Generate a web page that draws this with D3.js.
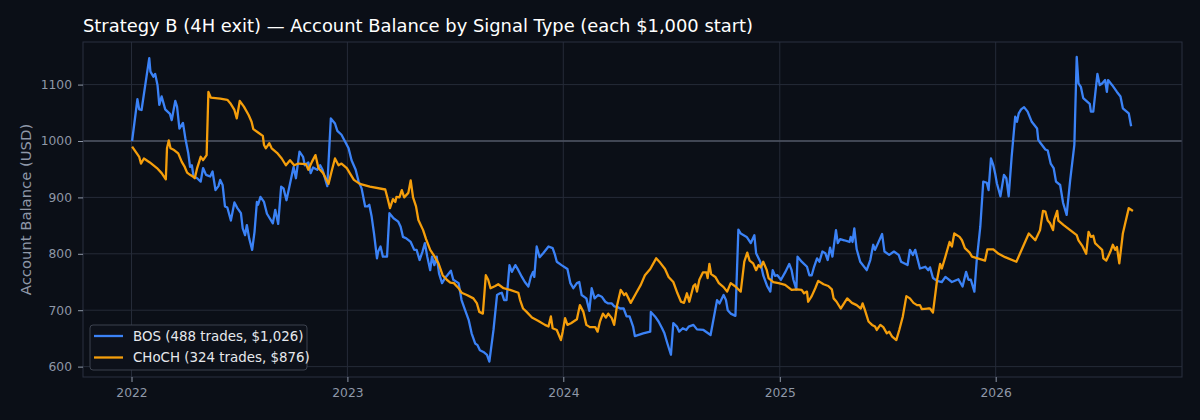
<!DOCTYPE html>
<html>
<head>
<meta charset="utf-8">
<title>Strategy B Account Balance</title>
<script src="https://cdn.jsdelivr.net/npm/d3@7"></script>
<style>
html, body {
    margin: 0;
    padding: 0;
    background: #0b0f17;
}
svg {
    display: block;
    font-family: "DejaVu Sans", sans-serif;
}
.grid line {
    stroke: #252b38;
    stroke-width: 1px;
}
.axis line, .axis path {
    stroke: #8f98a8;
}
.balance {
    fill: none;
    stroke-width: 2.3px;
    stroke-linejoin: round;
}
</style>
</head>
<body>
<div id="chart"></div>
<script>
// days since 2022-01-01 and balances
var bosDays = [1, 10, 13, 17, 30, 32, 37, 40, 44, 47, 51, 57, 65, 68, 74, 77, 81, 87, 91, 96,
    99, 102, 105, 111, 117, 121, 126, 133, 137, 142, 147, 150, 154, 158, 162, 168, 174, 179, 185, 188,
    192, 195, 199, 204, 208, 212, 214, 218, 224, 229, 239, 243, 248, 253, 257, 262, 274, 278, 284, 290,
    293, 299, 303, 307, 314, 319, 323, 331, 337, 344, 348, 355, 361, 367, 372, 379, 384, 389, 395, 399,
    402, 406, 410, 415, 417, 421, 425, 432, 436, 443, 451, 455, 459, 465, 472, 478, 482, 487, 492, 496,
    500, 505, 508, 512, 516, 520, 525, 530, 534, 540, 544, 553, 558, 564, 570, 575, 581, 585, 589, 595,
    601, 605, 612, 618, 623, 626, 630, 634, 639, 643, 649, 654, 660, 665, 671, 675, 679, 681, 685, 690,
    696, 705, 712, 716, 719, 727, 737, 742, 747, 753, 757, 761, 769, 774, 778, 783, 789, 795, 801, 806,
    812, 816, 821, 826, 832, 837, 842, 848, 851, 865, 877, 878, 885, 891, 897, 901, 906, 912, 916, 922,
    926, 932, 938, 942, 950, 956, 967, 979, 990, 994, 1001, 1005, 1008, 1013, 1021, 1026, 1030, 1040, 1047, 1053,
    1056, 1063, 1068, 1075, 1080, 1084, 1088, 1092, 1098, 1105, 1112, 1116, 1119, 1124, 1126, 1133, 1142, 1146, 1150, 1154,
    1159, 1163, 1168, 1173, 1177, 1181, 1185, 1191, 1194, 1198, 1205, 1214, 1216, 1219, 1222, 1226, 1232, 1243, 1249, 1254,
    1257, 1269, 1273, 1281, 1289, 1297, 1301, 1312, 1316, 1321, 1325, 1333, 1342, 1347, 1350, 1355, 1362, 1370, 1376, 1387,
    1398, 1405, 1411, 1415, 1419, 1425, 1429, 1435, 1440, 1446, 1449, 1453, 1457, 1460, 1463, 1469, 1475, 1479, 1483, 1488,
    1494, 1497, 1500, 1504, 1509, 1515, 1522, 1531, 1533, 1537, 1545, 1549, 1554, 1559, 1563, 1570, 1575, 1581, 1587, 1594,
    1598, 1601, 1605, 1609, 1620, 1622, 1626, 1633, 1637, 1641, 1646, 1649, 1651, 1658, 1666, 1672, 1676, 1686, 1690];
var bosBalance = [1000, 1074, 1056, 1055, 1147, 1123, 1114, 1119, 1099, 1064, 1079, 1056, 1048, 1037, 1071, 1061, 1022, 1032, 1005, 978,
    954, 957, 937, 934, 928, 952, 940, 937, 946, 913, 920, 931, 922, 884, 882, 859, 891, 881, 872, 845,
    833, 851, 827, 807, 839, 892, 887, 901, 892, 871, 854, 878, 853, 919, 916, 895, 954, 934, 981, 972,
    957, 962, 943, 953, 949, 957, 949, 920, 1040, 1031, 1018, 1011, 999, 987, 966, 949, 928, 916, 884, 884,
    887, 866, 836, 792, 804, 813, 795, 795, 872, 863, 857, 848, 830, 827, 821, 807, 807, 789, 804, 819,
    795, 771, 795, 780, 795, 765, 748, 757, 762, 770, 754, 748, 718, 700, 683, 659, 641, 638, 629, 626,
    621, 609, 665, 727, 730, 731, 718, 718, 780, 768, 780, 771, 759, 750, 742, 759, 768, 759, 813, 794,
    801, 813, 810, 798, 786, 780, 773, 748, 739, 748, 750, 727, 721, 699, 739, 721, 727, 724, 715, 712,
    712, 707, 706, 703, 703, 689, 689, 671, 654, 659, 662, 697, 689, 680, 668, 659, 641, 621, 677, 671,
    662, 668, 665, 671, 674, 666, 665, 656, 718, 712, 727, 718, 700, 694, 690, 843, 836, 830, 819, 833,
    801, 786, 762, 742, 733, 771, 761, 762, 754, 767, 782, 771, 754, 737, 795, 786, 777, 762, 762, 777,
    792, 786, 804, 801, 789, 811, 795, 842, 819, 826, 824, 821, 830, 821, 845, 808, 786, 771, 789, 816,
    807, 835, 804, 798, 804, 798, 786, 780, 807, 798, 807, 774, 777, 771, 776, 757, 752, 750, 759, 750,
    755, 742, 768, 754, 754, 733, 789, 848, 928, 926, 913, 969, 957, 943, 925, 902, 940, 934, 902, 972,
    1043, 1034, 1049, 1056, 1060, 1052, 1034, 1022, 1002, 996, 985, 983, 960, 952, 928, 922, 890, 869, 931, 993,
    1149, 1102, 1096, 1076, 1066, 1052, 1052, 1119, 1099, 1102, 1108, 1087, 1108, 1099, 1087, 1079, 1058, 1049, 1026];

var chochDays = [1, 9, 13, 16, 21, 31, 43, 51, 58, 60, 63, 66, 72, 79, 85, 90, 94, 99, 105, 107,
    111, 117, 121, 127, 130, 134, 150, 162, 167, 174, 178, 183, 190, 198, 203, 206, 214, 222, 224, 227,
    233, 237, 246, 254, 261, 268, 275, 282, 295, 299, 305, 311, 316, 324, 333, 339, 344, 350, 355, 364,
    369, 376, 386, 403, 429, 433, 437, 442, 446, 448, 453, 457, 461, 468, 472, 476, 481, 485, 493, 498,
    505, 512, 519, 526, 533, 539, 545, 553, 558, 567, 578, 584, 588, 594, 599, 603, 607, 615, 620, 629,
    640, 654, 657, 662, 668, 677, 688, 699, 705, 709, 712, 719, 726, 729, 733, 737, 743, 753, 758, 764,
    769, 775, 784, 788, 792, 797, 802, 806, 812, 816, 821, 827, 833, 836, 844, 853, 861, 868, 877, 887,
    894, 902, 908, 916, 923, 929, 934, 939, 943, 950, 953, 956, 960, 966, 972, 974, 977, 980, 987, 993,
    1001, 1007, 1013, 1021, 1030, 1036, 1041, 1045, 1051, 1056, 1060, 1064, 1068, 1074, 1077, 1085, 1094, 1105, 1116, 1125,
    1133, 1137, 1142, 1144, 1150, 1156, 1161, 1170, 1178, 1184, 1187, 1192, 1199, 1210, 1218, 1226, 1233, 1236, 1240, 1246,
    1252, 1257, 1260, 1266, 1271, 1277, 1281, 1286, 1293, 1298, 1304, 1310, 1316, 1322, 1328, 1333, 1336, 1346, 1350, 1355,
    1362, 1367, 1370, 1376, 1383, 1387, 1391, 1400, 1404, 1409, 1417, 1421, 1443, 1447, 1457, 1466, 1477, 1496, 1517, 1528,
    1536, 1541, 1545, 1549, 1553, 1558, 1560, 1565, 1567, 1576, 1587, 1598, 1601, 1608, 1614, 1618, 1622, 1626, 1629, 1635,
    1641, 1643, 1648, 1655, 1659, 1663, 1666, 1670, 1676, 1680, 1686, 1693];
var chochBalance = [990, 978, 972, 960, 969, 962, 952, 943, 932, 987, 1001, 987, 984, 978, 963, 954, 944, 940, 936, 934,
    952, 972, 966, 975, 1087, 1077, 1075, 1073, 1067, 1055, 1040, 1071, 1061, 1046, 1034, 1021, 1015, 1009, 993, 987,
    996, 987, 979, 969, 957, 966, 957, 960, 959, 949, 963, 975, 952, 943, 924, 949, 969, 957, 960, 952,
    943, 931, 924, 919, 914, 898, 881, 897, 892, 901, 900, 913, 900, 908, 930, 900, 884, 860, 842, 826,
    807, 796, 783, 762, 754, 749, 748, 739, 731, 727, 721, 712, 697, 694, 762, 754, 739, 743, 746, 739,
    736, 731, 718, 703, 697, 687, 681, 674, 671, 689, 668, 665, 647, 662, 686, 674, 677, 684, 709, 697,
    674, 670, 670, 662, 680, 694, 687, 694, 686, 674, 709, 736, 727, 730, 713, 730, 745, 762, 773, 792,
    784, 773, 759, 750, 730, 715, 713, 730, 715, 743, 746, 733, 754, 767, 767, 757, 782, 764, 759, 748,
    741, 733, 748, 742, 733, 786, 802, 788, 783, 771, 780, 776, 786, 771, 757, 750, 748, 745, 736, 737,
    736, 730, 733, 715, 725, 739, 752, 746, 743, 737, 721, 715, 703, 721, 713, 709, 703, 712, 700, 680,
    674, 671, 665, 674, 670, 659, 662, 653, 647, 665, 689, 725, 721, 713, 709, 709, 702, 703, 703, 696,
    754, 782, 774, 795, 821, 813, 836, 830, 824, 810, 802, 795, 788, 808, 808, 800, 794, 786, 836, 824,
    842, 876, 875, 859, 854, 842, 860, 876, 859, 851, 842, 833, 824, 813, 800, 839, 830, 832, 819, 813,
    807, 792, 788, 804, 816, 807, 812, 783, 836, 854, 881, 876];

var seriesNames  = ['BOS (488 trades, $1,026)', 'CHoCH (324 trades, $876)'];
var seriesColors = ['#3b82f6', '#f59e0b'];
var yTicks = [600, 700, 800, 900, 1000, 1100];
var chartTitle = 'Strategy B (4H exit) \u2014 Account Balance by Signal Type (each $1,000 start)';

var width  = 1200,
    height = 420,
    margin = {top: 42, right: 18, bottom: 43, left: 83},
    startDate = new Date(2022, 0, 1);

function toPoints(days, values) {
    return days.map(function(d, i) {
        return {date: d3.timeDay.offset(startDate, d), value: values[i]};
    });
}

var series = [toPoints(bosDays, bosBalance), toPoints(chochDays, chochBalance)];

var x = d3.scaleTime()
    .domain([d3.timeDay.offset(startDate, -82), d3.timeDay.offset(startDate, 1776)])
    .range([margin.left, width - margin.right]);
var y = d3.scaleLinear()
    .domain([581.6, 1175.5])
    .range([height - margin.bottom, margin.top]);

var svg = d3.select('#chart')
    .append('svg')
    .attr('width', width)
    .attr('height', height);

svg.append('rect')
    .attr('width', width)
    .attr('height', height)
    .attr('fill', '#0b0f17');

// grid
var grid = svg.append('g').attr('class', 'grid');
grid.selectAll('.gy')
    .data(yTicks)
    .enter().append('line')
    .attr('x1', margin.left)
    .attr('x2', width - margin.right)
    .attr('y1', function(d) { return y(d); })
    .attr('y2', function(d) { return y(d); });
grid.selectAll('.gx')
    .data(x.ticks(d3.timeYear.every(1)))
    .enter().append('line')
    .attr('x1', function(d) { return x(d); })
    .attr('x2', function(d) { return x(d); })
    .attr('y1', margin.top)
    .attr('y2', height - margin.bottom);

// $1,000 start line
svg.append('line')
    .attr('x1', margin.left)
    .attr('x2', width - margin.right)
    .attr('y1', y(1000))
    .attr('y2', y(1000))
    .attr('stroke', '#4f5664')
    .attr('stroke-width', 1.3);

// frame
svg.append('rect')
    .attr('x', margin.left)
    .attr('y', margin.top)
    .attr('width', width - margin.left - margin.right)
    .attr('height', height - margin.top - margin.bottom)
    .attr('fill', 'none')
    .attr('stroke', '#2b3140')
    .attr('stroke-width', 1);

var line = d3.line()
    .x(function(d) { return x(d.date); })
    .y(function(d) { return y(d.value); });

svg.selectAll('.balance')
    .data(series)
    .enter().append('path')
    .attr('class', 'balance')
    .attr('stroke', function(d, i) { return seriesColors[i]; })
    .attr('d', line);

// axes
var xAxis = svg.append('g')
    .attr('class', 'axis')
    .attr('transform', 'translate(0,' + (height - margin.bottom) + ')')
    .call(d3.axisBottom(x)
        .ticks(d3.timeYear.every(1))
        .tickFormat(d3.timeFormat('%Y'))
        .tickSize(5)
        .tickPadding(6));

var yAxis = svg.append('g')
    .attr('class', 'axis')
    .attr('transform', 'translate(' + margin.left + ',0)')
    .call(d3.axisLeft(y)
        .tickValues(yTicks)
        .tickFormat(d3.format('d'))
        .tickSize(5)
        .tickPadding(6));

svg.selectAll('.axis .domain').remove();
svg.selectAll('.axis text')
    .attr('fill', '#8f98a8')
    .attr('font-size', 12.3)
    .attr('font-family', '"DejaVu Sans", sans-serif');

svg.append('text')
    .attr('transform', 'translate(31,' + ((margin.top + height - margin.bottom) / 2) + ') rotate(-90)')
    .attr('text-anchor', 'middle')
    .attr('fill', '#8f98a8')
    .attr('font-size', 14.8)
    .text('Account Balance (USD)');

svg.append('text')
    .attr('x', margin.left)
    .attr('y', 32)
    .attr('fill', '#ffffff')
    .attr('font-size', 17.9)
    .text(chartTitle);

// legend
var legend = svg.append('g').attr('transform', 'translate(90,325)');
legend.append('rect')
    .attr('width', 217)
    .attr('height', 45)
    .attr('rx', 3)
    .attr('fill', '#0d111a')
    .attr('stroke', '#3c424e')
    .attr('stroke-width', 1);
var entry = legend.selectAll('.entry')
    .data(seriesNames)
    .enter().append('g')
    .attr('transform', function(d, i) { return 'translate(0,' + (11 + i * 21.5) + ')'; });
entry.append('line')
    .attr('x1', 4)
    .attr('x2', 33)
    .attr('stroke', function(d, i) { return seriesColors[i]; })
    .attr('stroke-width', 2.3);
entry.append('text')
    .attr('x', 43)
    .attr('dy', '0.35em')
    .attr('fill', '#e6e8ec')
    .attr('font-size', 13.4)
    .text(function(d) { return d; });
</script>
</body>
</html>
